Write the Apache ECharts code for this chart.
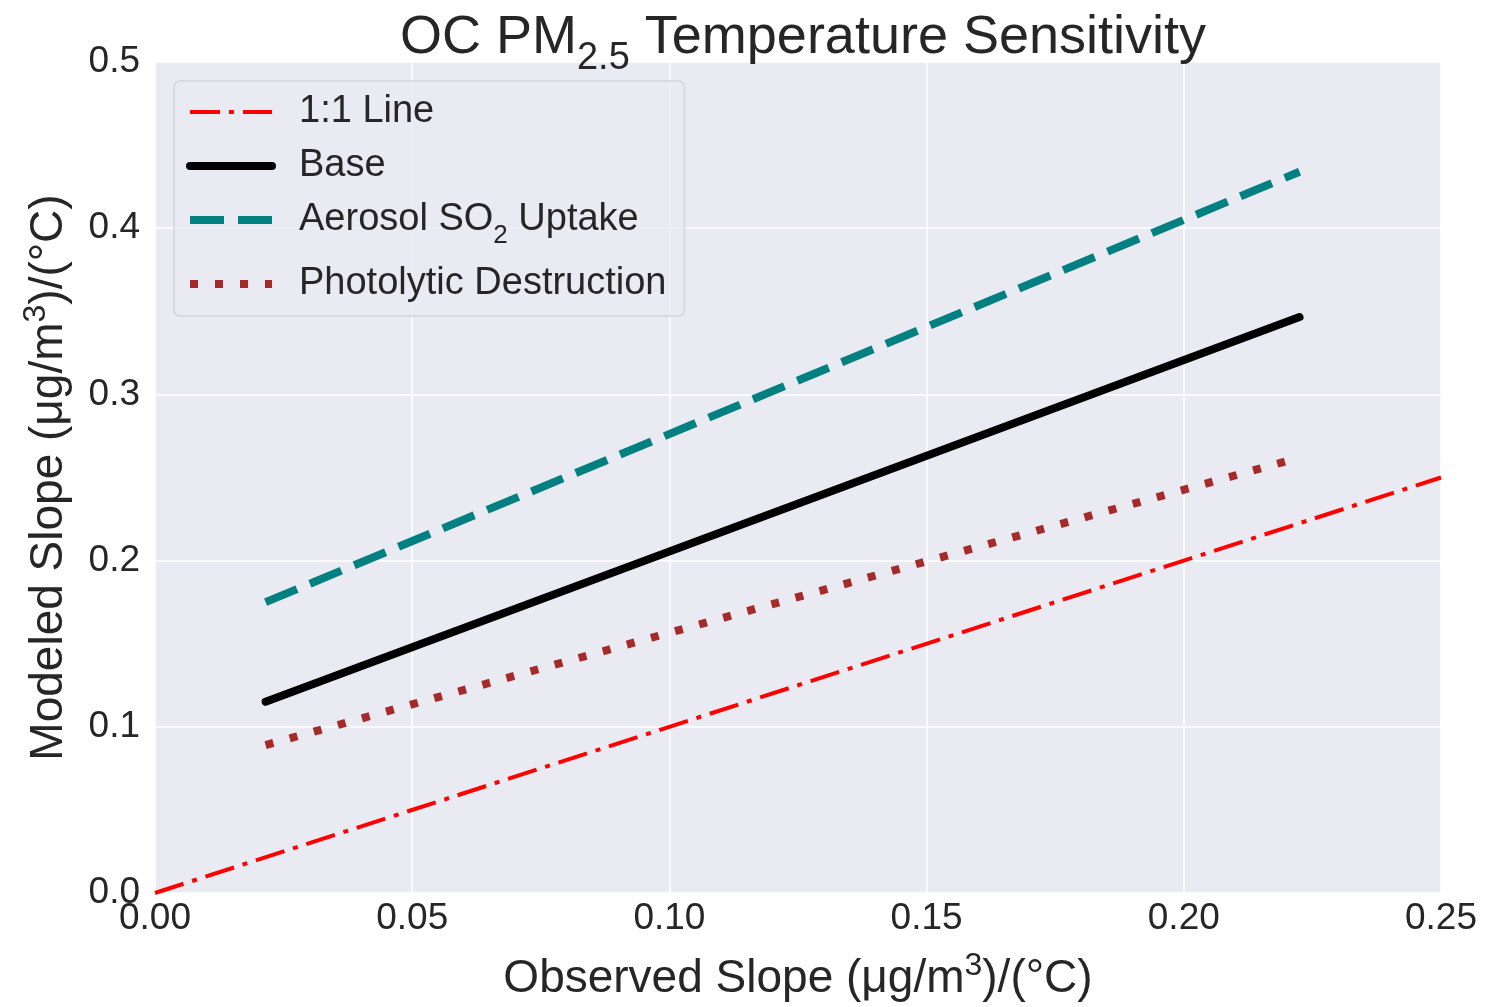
<!DOCTYPE html>
<html><head><meta charset="utf-8">
<script src="https://cdn.jsdelivr.net/npm/echarts@6/dist/echarts.min.js"></script>
<style>html,body{margin:0;padding:0;background:#fff}#c{width:1506px;height:1007px}</style>
</head><body><div id="c"></div>
<script>
var xTicks = [0, 0.05, 0.10, 0.15, 0.20, 0.25];
var yTicks = [0, 0.1, 0.2, 0.3, 0.4, 0.5];
var oneToOneX = [0, 0.25];
var oneToOneY = [0, 0.25];
var modelX = [0.0215, 0.2225];
var baseY = [0.115, 0.3465];
var so2Y = [0.175, 0.434];
var photoY = [0.089, 0.262];
var seriesNames = ['1:1 Line', 'Base', 'Aerosol SO2 Uptake', 'Photolytic Destruction'];

function pairs(xs, ys){ return xs.map(function(x,i){ return [x, ys[i]]; }); }
var FONT = 'Liberation Sans, Arial, sans-serif';
var TXT = '#262626';
var chart = echarts.init(document.getElementById('c'));
chart.setOption({
  animation:false,
  backgroundColor:'#ffffff',
  title:{
    text:'{a|OC PM}{s|2.5}{a| Temperature Sensitivity}',
    left:798, textAlign:'center', top:-2,
    textStyle:{ rich:{
      a:{fontFamily:FONT, fontSize:54, fontWeight:'normal', color:TXT, verticalAlign:'bottom', lineHeight:62},
      s:{fontFamily:FONT, fontSize:38, fontWeight:'normal', color:TXT, verticalAlign:'bottom', lineHeight:46, padding:[0,0,-13,0]}
    }}
  },
  grid:{left:155, right:65, top:62, bottom:111, show:true, backgroundColor:'#EAEAF2', borderWidth:0},
  legend:{
    show:true, orient:'vertical', left:174, top:81,
    itemWidth:82, itemHeight:14, itemGap:16,
    backgroundColor:'rgba(234,234,242,0.85)', borderColor:'#d4d4dc', borderWidth:1.5, borderRadius:6,
    padding:[12,18,13,12],
    data:seriesNames,
    lineStyle:{width:'inherit', type:'inherit', cap:'inherit'},
    itemStyle:{opacity:0},
    formatter:function(n){
      if(n==='Aerosol SO2 Uptake') return '{a|Aerosol SO}{s|2}{a| Uptake}';
      return '{a|'+n+'}';
    },
    textStyle:{ padding:[0,0,0,22], rich:{
      a:{fontFamily:FONT, fontSize:38, color:TXT, lineHeight:40},
      s:{fontFamily:FONT, fontSize:26, color:TXT, verticalAlign:'bottom', padding:[0,0,-9,0], lineHeight:40}
    }}
  },
  xAxis:{
    type:'value', min:0, max:0.25, interval:0.05,
    name:'{a|Observed Slope (μg/m}{s|3}{a|)/(°C)}', nameLocation:'middle', nameGap:57,
    nameTextStyle:{ rich:{
      a:{fontFamily:FONT, fontSize:46, color:TXT, verticalAlign:'bottom'},
      s:{fontFamily:FONT, fontSize:32, color:TXT, verticalAlign:'bottom', padding:[0,0,20,0]}
    }},
    axisLine:{show:false}, axisTick:{show:false},
    splitLine:{show:true, lineStyle:{color:'#ffffff', width:1.5}},
    axisLabel:{fontFamily:FONT, fontSize:37, color:TXT, margin:7,
      formatter:function(v){ return v.toFixed(2); }}
  },
  yAxis:{
    type:'value', min:0, max:0.5, interval:0.1,
    name:'{a|Modeled Slope (μg/m}{s|3}{a|)/(°C)}', nameLocation:'middle', nameGap:83, nameRotate:90,
    nameTextStyle:{ rich:{
      a:{fontFamily:FONT, fontSize:46, color:TXT, verticalAlign:'bottom'},
      s:{fontFamily:FONT, fontSize:32, color:TXT, verticalAlign:'bottom', padding:[0,0,20,0]}
    }},
    axisLine:{show:false}, axisTick:{show:false},
    splitLine:{show:true, lineStyle:{color:'#ffffff', width:1.5}},
    axisLabel:{fontFamily:FONT, fontSize:37, color:TXT, margin:15,
      formatter:function(v){ return v.toFixed(1); }}
  },
  series:[
    {name:seriesNames[0], type:'line', data:pairs(oneToOneX, oneToOneY), symbol:'none', z:2,
     lineStyle:{color:'#ff0000', width:4, type:[30,9,5,9]}, itemStyle:{color:'#ff0000'}},
    {name:seriesNames[1], type:'line', data:pairs(modelX, baseY), symbol:'none', z:3,
     lineStyle:{color:'#000000', width:8, cap:'round'}, itemStyle:{color:'#000000'}},
    {name:seriesNames[2], type:'line', data:pairs(modelX, so2Y), symbol:'none', z:3,
     lineStyle:{color:'#008080', width:8, type:[34,14]}, itemStyle:{color:'#008080'}},
    {name:seriesNames[3], type:'line', data:pairs(modelX, photoY), symbol:'none', z:3,
     lineStyle:{color:'#a52a2a', width:8, type:[8,17]}, itemStyle:{color:'#a52a2a'}}
  ]
});
</script></body></html>
